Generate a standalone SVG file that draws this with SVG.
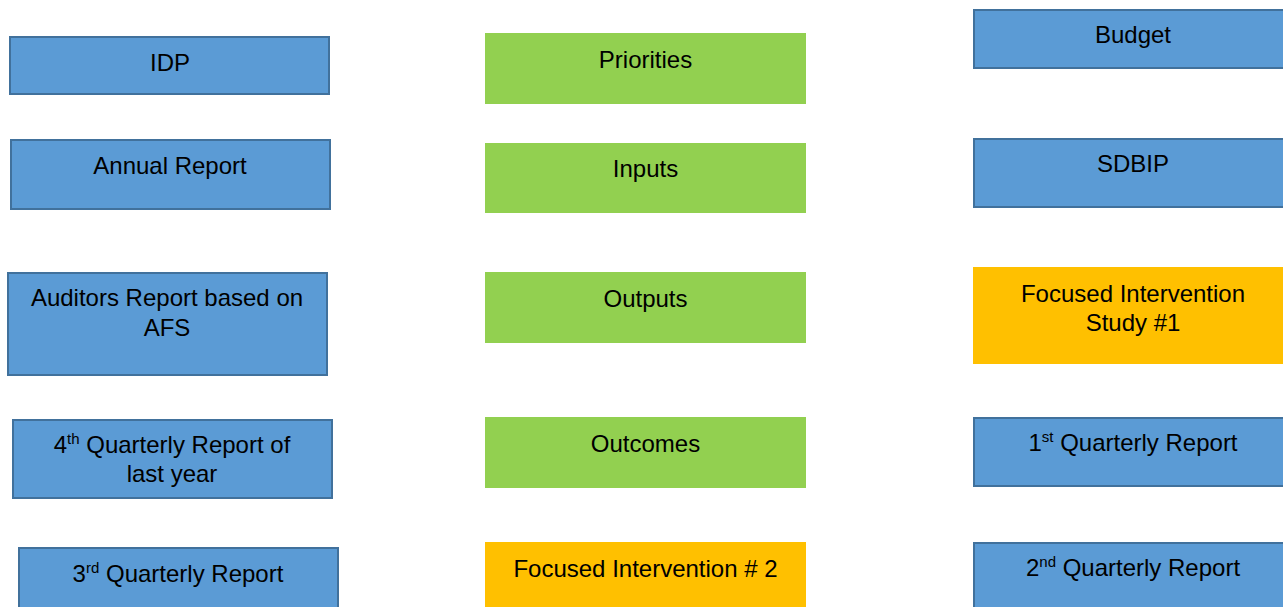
<svg xmlns="http://www.w3.org/2000/svg" width="1283" height="607" viewBox="0 0 1283 607">
<style>
.blue{fill:#5B9BD5;stroke:#41719C;stroke-width:2}
.green{fill:#92D050}
.orange{fill:#FFC000}
text{font-family:"Liberation Sans",Arial,sans-serif;font-size:24px;fill:#000;text-anchor:middle}
.sup{font-size:15px}
</style>
<rect width="1283" height="607" fill="#FFFFFF"/>
<g id="connectors"></g>
<g id="idp"><rect class="blue" x="10" y="37" width="319" height="57"/><text x="170" y="71">IDP</text></g>
<g id="annual-report"><rect class="blue" x="11" y="140" width="319" height="69"/><text x="170" y="174">Annual Report</text></g>
<g id="auditors-report"><rect class="blue" x="8" y="273" width="319" height="102"/><text x="167" y="306">Auditors Report based on</text><text x="167" y="336">AFS</text></g>
<g id="q4-report"><rect class="blue" x="13" y="420" width="319" height="78"/><text x="172" y="453">4<tspan class="sup" dy="-9">th</tspan><tspan dy="9"> Quarterly Report of</tspan></text><text x="172" y="482">last year</text></g>
<g id="q3-report"><rect class="blue" x="19" y="548" width="319" height="62"/><text x="178" y="582">3<tspan class="sup" dy="-9">rd</tspan><tspan dy="9"> Quarterly Report</tspan></text></g>
<g id="priorities"><rect class="green" x="485" y="33" width="321" height="71"/><text x="645.5" y="68">Priorities</text></g>
<g id="inputs"><rect class="green" x="485" y="143" width="321" height="70"/><text x="645.5" y="177">Inputs</text></g>
<g id="outputs"><rect class="green" x="485" y="272" width="321" height="71"/><text x="645.5" y="307">Outputs</text></g>
<g id="outcomes"><rect class="green" x="485" y="417" width="321" height="71"/><text x="645.5" y="452">Outcomes</text></g>
<g id="focused-intervention-2"><rect class="orange" x="485" y="542" width="321" height="70"/><text x="645.5" y="577">Focused Intervention # 2</text></g>
<g id="budget"><rect class="blue" x="974" y="10" width="320" height="58"/><text x="1133" y="43">Budget</text></g>
<g id="sdbip"><rect class="blue" x="974" y="139" width="320" height="68"/><text x="1133" y="172">SDBIP</text></g>
<g id="focused-intervention-1"><rect class="orange" x="973" y="267" width="321" height="97"/><text x="1133" y="302">Focused Intervention</text><text x="1133" y="331">Study #1</text></g>
<g id="q1-report"><rect class="blue" x="974" y="418" width="320" height="68"/><text x="1133" y="451">1<tspan class="sup" dy="-9">st</tspan><tspan dy="9"> Quarterly Report</tspan></text></g>
<g id="q2-report"><rect class="blue" x="974" y="543" width="320" height="70"/><text x="1133" y="576">2<tspan class="sup" dy="-9">nd</tspan><tspan dy="9"> Quarterly Report</tspan></text></g>
</svg>
